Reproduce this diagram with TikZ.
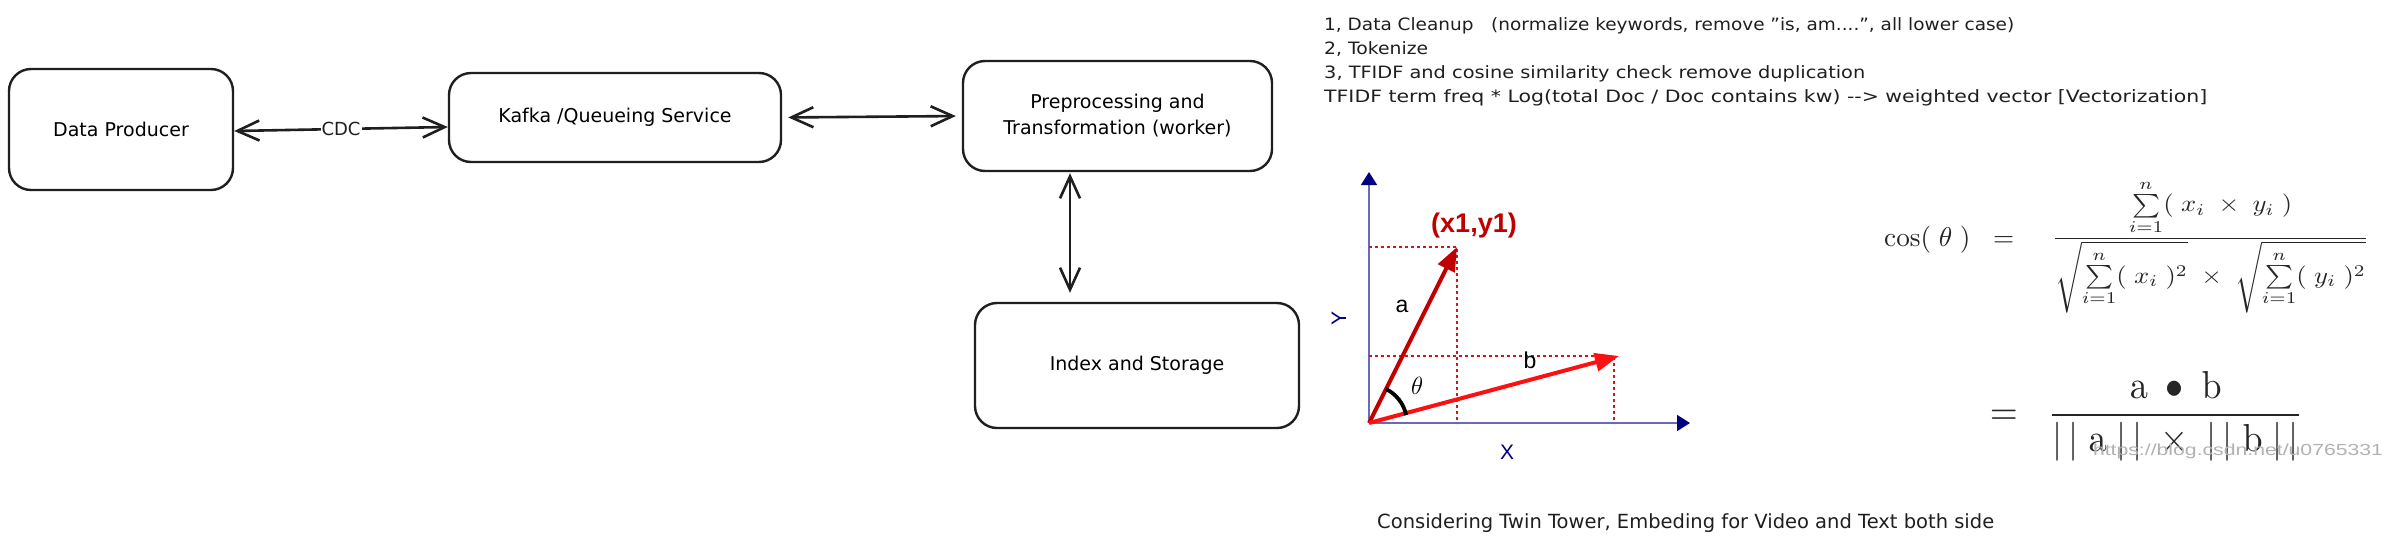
\documentclass[tikz,border=0pt]{standalone}
\usepackage{amsmath}
\usepackage{graphicx}
\usepackage[no-math]{fontspec}
\setmainfont{DejaVu Sans}
\newfontfamily\arialfont{Liberation Sans}
\usetikzlibrary{arrows.meta}
\definecolor{navyax}{HTML}{000080}
\definecolor{axline}{HTML}{6A6AB8}
\definecolor{darkred}{HTML}{C00000}
\definecolor{brightred}{HTML}{FF1010}
\definecolor{dotred}{HTML}{E01010}
\begin{document}
\begin{tikzpicture}[x=1pt,y=-1pt,
  sketchbox/.style={draw=black!88, line width=2.4pt, rounded corners=22pt,
    font=\fontsize{19}{26}\selectfont, align=center, inner sep=0pt},
  conn/.style={line width=2.6pt, draw=black!88,
    {Straight Barb[length=22pt,width=20pt,line width=2.6pt]}-{Straight Barb[length=22pt,width=20pt,line width=2.6pt]}},
  sketchtext/.style={font=\fontsize{17}{24}\selectfont, inner sep=0pt, text=black!88},
  axis/.style={line width=1.6pt, draw=axline, -{Triangle[length=13pt,width=16pt,color=navyax]}},
  dotline/.style={line width=1.8pt, draw=dotred, dash pattern=on 3pt off 3pt},
  vecA/.style={line width=4pt, draw=darkred, -{Triangle[length=24pt,width=18pt]}},
  vecB/.style={line width=4pt, draw=brightred, -{Triangle[length=24pt,width=18pt]}},
  glabel/.style={font=\arialfont\fontsize{23}{26}\selectfont, inner sep=0pt},
]
\useasboundingbox (0,0) rectangle (2392,544);
\fill[white] (0,0) rectangle (2392,544);

% ---- pipeline boxes ----
\node[sketchbox, minimum width=224pt, minimum height=121pt] (dp) at (121,129.5) {Data Producer};
\node[sketchbox, minimum width=332pt, minimum height=89pt] (kafka) at (615,117.5) {Kafka /Queueing Service};
\node[sketchbox, minimum width=309pt, minimum height=110pt] (prep) at (1117.5,116) {Preprocessing and\\Transformation (worker)};
\node[sketchbox, minimum width=324pt, minimum height=125pt] (index) at (1137,365.5) {Index and Storage};

\coordinate (vx) at (1070,0);
\draw[conn] ([yshift=-1.5pt]dp.east) -- node[sketchtext, font=\fontsize{18}{24}\selectfont, fill=white, inner sep=1pt] (cdc) {CDC} ([yshift=-9.5pt]kafka.west);
\draw[conn, shorten <=6pt, shorten >=6pt] (kafka.east) -- (prep.west);
\draw[conn, shorten <=1pt, shorten >=9pt] (prep.south -| vx) -- (index.north -| vx);

% ---- notes ----
\node[sketchtext, anchor=base west] (l1) at (1324,30) {\resizebox{690pt}{\height}{1, Data Cleanup\ \ \ (normalize keywords, remove "is, am....", all lower case)}};
\node[sketchtext, anchor=base west] (l2) at (1324,54) {\resizebox{104pt}{\height}{2, Tokenize}};
\node[sketchtext, anchor=base west] (l3) at (1324,78) {\resizebox{541pt}{\height}{3, TFIDF and cosine similarity check remove duplication}};
\node[sketchtext, anchor=base west] (l4) at (1324,102) {\resizebox{883pt}{\height}{TFIDF term freq * Log(total Doc / Doc contains kw) -{}-> weighted vector [Vectorization]}};
\node[sketchtext, font=\fontsize{19.5}{24}\selectfont, anchor=base west] (bottom) at (1377,528) {Considering Twin Tower, Embeding for Video and Text both side};

% ---- vector graph ----
\coordinate (O) at (1369,423);
\coordinate (ya) at (1369,172);
\coordinate (xa) at (1690,423);
\coordinate (A) at (1457,247);
\coordinate (B) at (1619,356);
\draw[axis] (O) -- (ya);
\draw[axis] (O) -- (xa);
\draw[dotline] (1369,247) -- (1457,247) -- (1457,423);
\draw[dotline] (1369,356) -- (1614,356) -- (1614,423);
\draw[vecA] (O) -- (A);
\draw[vecB] (O) -- (B);
\begin{scope}[shift={(O)}, x=1pt, y=1pt]
  \draw[line width=3.8pt, black] (12:38) arc[start angle=12, end angle=64, radius=38];
\end{scope}
\node[glabel, font=\arialfont\bfseries\fontsize{27}{30}\selectfont, text=darkred] (pt) at (1474,226) {(x1,y1)};
\node[glabel] (la) at (1402,306) {a};
\node[glabel] (lb) at (1530,360) {b};
\node[inner sep=0pt, font=\fontsize{27}{30}\selectfont] (lt) at (1417,386) {$\theta$};
\node[glabel, text=navyax, rotate=90, font=\arialfont\fontsize{21}{24}\selectfont] (ly) at (1339,318) {Y};
\node[glabel, text=navyax, font=\arialfont\fontsize{21}{24}\selectfont] (lx) at (1507,452) {X};

% ---- formulas ----
\node[inner sep=0pt, text=black!85, anchor=west] (cosl) at (1884,240) {\resizebox{130pt}{!}{$\cos(\;\theta\;)\;\;=$}};
\node[inner sep=0pt, text=black!85] (f1) at (2210.5,246.5) {\resizebox*{317pt}{133pt}{$\dfrac{\sum\limits_{i=1}^{n}(\;x_i\;\times\;y_i\;)}{\sqrt{\sum\limits_{i=1}^{n}(\;x_i\;)^2}\;\times\;\sqrt{\sum\limits_{i=1}^{n}(\;y_i\;)^2}}$}};
\node[inner sep=0pt, text=black!85] (f2) at (2146.5,416) {\resizebox*{313pt}{90pt}{$=\;\;\dfrac{\mathrm{a}\;\bullet\;\mathrm{b}}{|\,|\;\mathrm{a}\;|\,|\;\times\;|\,|\;\mathrm{b}\;|\,|}$}};
\node[inner sep=0pt, text=black!30, font=\arialfont\fontsize{16}{18}\selectfont] (wm) at (2238,451) {\resizebox{290pt}{\height}{https://blog.csdn.net/u0765331}};
\end{tikzpicture}
\end{document}
